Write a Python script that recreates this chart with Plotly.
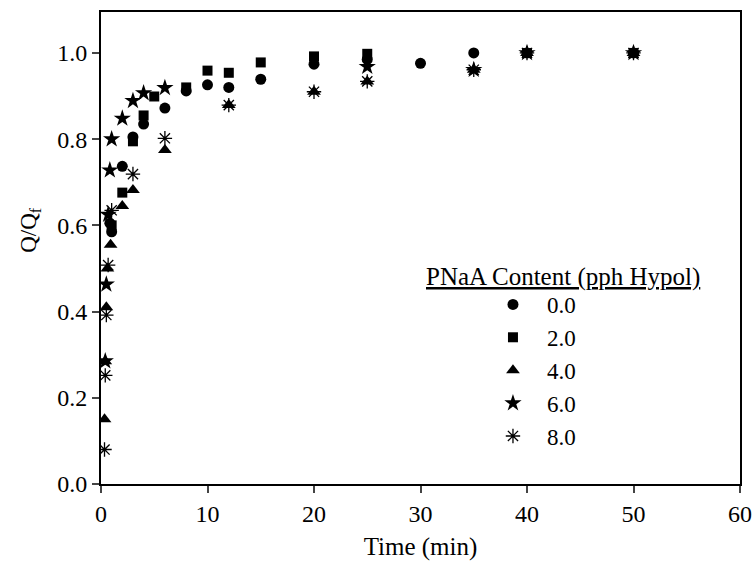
import plotly.graph_objects as go

# Series data: time (min) and Q/Qf
labels = ["0.0", "2.0", "4.0", "6.0", "8.0"]

t_00 = [0.83, 1, 2, 3, 4, 6, 8, 10, 12, 15, 20, 25, 30, 35, 40, 50]
v_00 = [0.605, 0.585, 0.737, 0.805, 0.835, 0.872, 0.912, 0.926, 0.920, 0.939, 0.974, 0.985, 0.976, 1.0, 1.0, 1.0]

t_20 = [1, 2, 3, 4, 5, 8, 10, 12, 15, 20, 25, 40, 50]
v_20 = [0.60, 0.676, 0.795, 0.855, 0.899, 0.920, 0.959, 0.954, 0.978, 0.992, 0.998, 1.0, 1.0]

t_40 = [0.33, 0.4, 0.5, 0.6, 0.9, 2, 3, 6, 12, 20, 25, 35, 40, 50]
v_40 = [0.15, 0.285, 0.41, 0.50, 0.555, 0.645, 0.682, 0.775, 0.879, 0.91, 0.934, 0.961, 1.0, 1.0]

t_60 = [0.4, 0.5, 0.67, 0.83, 1, 2, 3, 4, 6, 25, 35, 40, 50]
v_60 = [0.285, 0.463, 0.625, 0.728, 0.80, 0.848, 0.889, 0.907, 0.919, 0.968, 0.961, 1.0, 1.0]

t_80 = [0.33, 0.4, 0.5, 0.67, 1, 3, 6, 12, 20, 25, 35, 40, 50]
v_80 = [0.08, 0.252, 0.392, 0.508, 0.635, 0.719, 0.802, 0.879, 0.91, 0.934, 0.961, 1.0, 1.0]

x_ticks = [0, 10, 20, 30, 40, 50, 60]
y_ticks = [0.0, 0.2, 0.4, 0.6, 0.8, 1.0]

FONT = "Liberation Serif, Times New Roman, serif"

series = [
    (t_00, v_00, "circle", 11, None),
    (t_20, v_20, "square", 10, None),
    (t_40, v_40, "triangle-up", 12, None),
    (t_60, v_60, "star", 13, None),
    (t_80, v_80, "asterisk-open", 12, 1.3),
]

fig = go.Figure()
for i, (t, v, sym, size, lw) in enumerate(series):
    marker = dict(symbol=sym, size=size, color="black")
    if lw is not None:
        marker["line"] = dict(color="black", width=lw)
    else:
        marker["line"] = dict(width=0)
    fig.add_trace(go.Scatter(
        x=t, y=v, mode="markers", name=labels[i], marker=marker,
        showlegend=True,
    ))

fig.update_layout(
    width=755, height=567,
    margin=dict(l=101, r=15, t=12, b=83, autoexpand=False),
    paper_bgcolor="white", plot_bgcolor="white",
    font=dict(family=FONT, size=23, color="black"),
    showlegend=True,
    legend=dict(
        x=0.5915, y=0.426, xanchor="left", yanchor="top",
        bgcolor="rgba(0,0,0,0)", borderwidth=0,
        font=dict(family=FONT, size=23, color="black"),
        tracegroupgap=0, itemsizing="trace", itemwidth=58,
    ),
    annotations=[
        dict(
            text="<u>PNaA Content (pph Hypol)</u>",
            x=0.723, y=0.4386, xref="paper", yref="paper",
            xanchor="center", yanchor="middle", showarrow=False,
            font=dict(family=FONT, size=25, color="black"),
        ),
        dict(
            text="Q/Q<sub>f</sub>",
            x=-0.111, y=0.59, xref="paper", yref="y",
            xanchor="center", yanchor="middle", showarrow=False,
            textangle=-90,
            font=dict(family=FONT, size=23, color="black"),
        ),
    ],
)

fig.update_xaxes(
    range=[0, 60], tickvals=x_ticks, ticks="outside", ticklen=7, tickwidth=2,
    showline=True, linecolor="black", linewidth=2, mirror=True,
    showgrid=False, zeroline=False, ticklabeloverflow="allow", automargin=False,
    title=dict(text="Time (min)", standoff=12, font=dict(size=25)),
    tickfont=dict(family=FONT, size=24),
)
fig.update_yaxes(
    range=[0, 1.095], tickvals=y_ticks, tickformat=".1f", ticks="outside", ticklen=7, tickwidth=2,
    showline=True, linecolor="black", linewidth=2, mirror=True,
    showgrid=False, zeroline=False, automargin=False,
    tickfont=dict(family=FONT, size=24),
)

fig.write_html(
    "out.html",
    config={"displayModeBar": False},
    post_script="document.body.style.margin='0px';document.body.style.overflow='hidden';",
)
